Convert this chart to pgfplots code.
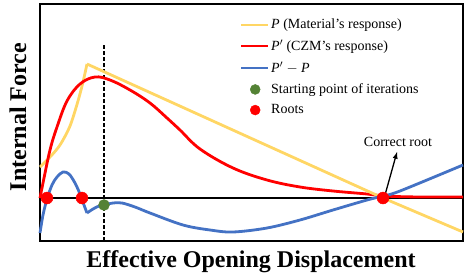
\documentclass[border=0pt]{standalone}
\usepackage{fontspec}
\setmainfont{Liberation Serif}
\usepackage{pgfplots}
\pgfplotsset{compat=1.18}
\definecolor{cyel}{RGB}{255,214,100}
\definecolor{cred}{RGB}{255,0,0}
\definecolor{cblue}{RGB}{68,114,196}
\definecolor{cgreen}{RGB}{84,130,53}
\begin{document}
\begin{tikzpicture}
\begin{axis}[
  at={(0pt,0pt)}, anchor=south west,
  scale only axis, width=423pt, height=237pt,
  xmin=40, xmax=463, ymin=-241, ymax=-4,
  axis line style={line width=1.8pt},
  xtick=\empty, ytick=\empty,
  clip=false,
  legend style={draw=none, fill=none, at={(axis cs:240,-17)}, anchor=north west,
    font=\fontsize{14}{15}\selectfont, cells={anchor=west}, row sep=5.6pt,
    inner sep=0pt},
  legend cell align=left,
  lineleg/.style={legend image code/.code={\draw[##1, line width=2pt] (0pt,0pt) -- (27pt,0pt);}},
  dotleg/.style={legend image code/.code={\draw[##1, mark size=5pt] plot coordinates {(14pt,0pt)};}},
]
% baseline
\addplot[black, line width=1.1pt, forget plot] coordinates {(40,-198) (463,-198)};
% dashed vertical
\addplot[black, line width=1.4pt, dash pattern=on 4pt off 2pt, forget plot] coordinates {(104,-45) (104,-241)};
% P (yellow)
\addplot[cyel, line width=2.8pt, smooth, tension=0.5, lineleg] coordinates {
 (40,-167) (50,-157) (60,-145) (70,-126) (78,-101) (83,-82) (87,-64)};
\addlegendentry{\textit{P} (Material’s response)}
% P' (red)
\addplot[cred, line width=2.8pt, smooth, tension=0.6, lineleg] coordinates {
 (40,-198) (43,-183) (50,-150) (57,-127) (67,-101) (80,-84) (95,-77) (110,-80) (130,-90)
 (150,-103) (167,-118) (180,-130) (200,-149) (233,-168) (267,-180) (300,-187) (333,-191)
 (367,-194) (383,-196) (420,-197) (463,-197)};
\addlegendentry{\textit{P}$'$ (CZM’s response)}
% P'-P (blue) left part
\addplot[cblue, line width=2.8pt, smooth, tension=0.55, lineleg] coordinates {
 (40,-233) (43,-215) (47,-199) (52,-185) (57,-177) (63,-172) (69,-174) (75,-183)
 (80,-194) (84,-205) (87,-213)};
\addlegendentry{\textit{P}$'$ $-$ \textit{P}}
\addplot[cyel, line width=2.8pt, forget plot] coordinates {(87,-64) (383,-198) (463,-232)};
\addplot[cblue, line width=2.8pt, smooth, tension=0.55, forget plot] coordinates {
 (87,-213) (93,-209) (99,-206) (104,-205) (113,-203) (122,-203) (135,-207) (150,-213)
 (183,-225) (210,-230) (233,-232) (267,-228) (300,-220) (333,-210) (367,-200)
 (383,-196) (400,-191) (463,-165)};
% markers
\addplot[only marks, mark=*, mark size=5.5pt, cgreen, mark options={draw=cgreen, fill=cgreen}, dotleg] coordinates {(104,-205)};
\addlegendentry{Starting point of iterations}
\addplot[only marks, mark=*, mark size=6pt, cred, mark options={draw=cred, fill=cred}, dotleg] coordinates {(47,-198) (82,-198) (383,-198)};
\addlegendentry{Roots}
% annotation
\draw[-latex, line width=1.3pt] (axis cs:385,-195) -- (axis cs:397,-152);
\node[font=\fontsize{14}{15}\selectfont] at (axis cs:398,-142) {Correct root};
% labels
\node[font=\fontsize{24}{28}\selectfont\bfseries, rotate=90] at (axis cs:18,-117) {Internal Force};
\node[font=\fontsize{24}{28}\selectfont\bfseries] at (axis cs:251,-262) {Effective Opening Displacement};
\end{axis}
\path[use as bounding box] (-40pt,-36pt) rectangle (431pt,241pt);
\end{tikzpicture}
\end{document}
